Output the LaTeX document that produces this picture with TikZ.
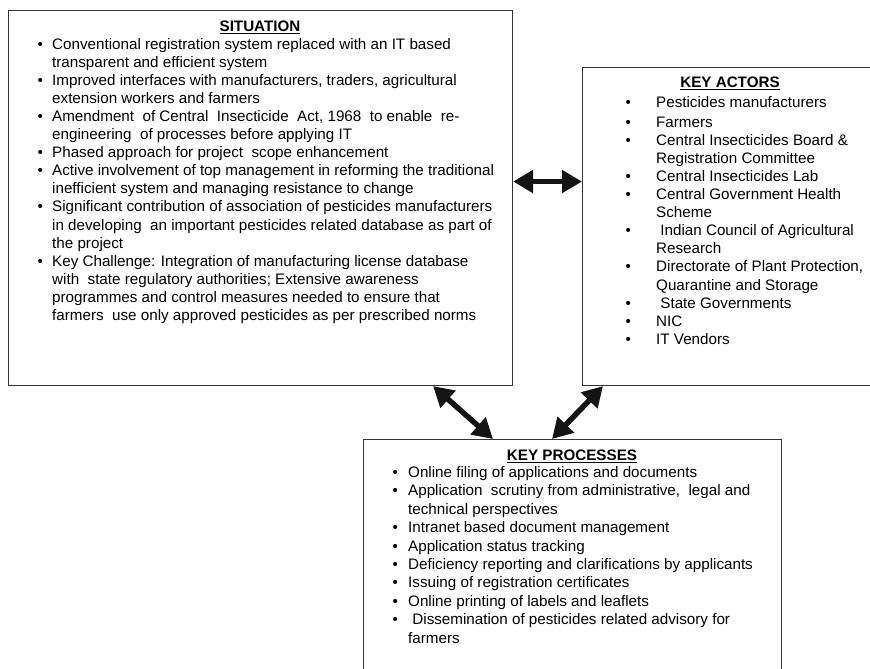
\documentclass[tikz,border=0pt]{standalone}
\usepackage{fontspec}
\setmainfont{Liberation Sans}
\usetikzlibrary{arrows.meta}

\newcommand{\boxtitle}[1]{\underline{\textbf{#1}}}
\newcommand{\itm}{\textbullet}

\tikzset{
  panel/.style={draw=black!80, line width=1.1pt, anchor=north west, inner sep=0pt},
  listtext/.style={anchor=base west, inner sep=0pt, align=left,
    font=\fontsize{15.2}{18.1}\selectfont},
  titletext/.style={anchor=base, inner sep=0pt,
    font=\fontsize{15.2}{18.1}\selectfont},
  fat/.style={line width=5.5pt, draw=black!92,
    {Triangle[length=20pt,width=22pt]}-{Triangle[length=20pt,width=22pt]}}
}

\begin{document}
\begin{tikzpicture}[x=1pt,y=-1pt]
\useasboundingbox (0,0) rectangle (870,669);
\clip (0,0) rectangle (870,669);

% the three panels
\node[panel, minimum width=504pt, minimum height=375pt] (sit) at (8,10) {};
\node[panel, minimum width=300pt, minimum height=318pt] (act) at (582,67) {};
\node[panel, minimum width=418pt, minimum height=260pt] (proc) at (363,439) {};

% situation
\node[titletext] (sittitle) at (260,31.5) {\boxtitle{SITUATION}};
\node[listtext] (sitlist) at (37.5,49) {%
\begin{tabular}[t]{@{}p{14.5pt}@{}l@{}}
\itm & Conventional registration system replaced with an IT based\\
     & transparent and efficient system\\
\itm & Improved interfaces with manufacturers, traders, agricultural\\
     & extension workers and farmers\\
\itm & Amendment\ \ of Central\ \ Insecticide\ \ Act, 1968\ \ to enable\ \ re-\\
     & engineering\ \ of processes before applying IT\\
\itm & Phased approach for project\ \ scope enhancement\\
\itm & Active involvement of top management in reforming the traditional\\
     & inefficient system and managing resistance to change\\
\itm & Significant contribution of association of pesticides manufacturers\\
     & in developing\ \ an important pesticides related database as part of\\
     & the project\\
\itm & Key Challenge: Integration of manufacturing license database\\
     & with\ \ state regulatory authorities; Extensive awareness\\
     & programmes and control measures needed to ensure that\\
     & farmers\ \ use only approved pesticides as per prescribed norms
\end{tabular}};

% key actors
\node[titletext] (acttitle) at (730,88) {\boxtitle{KEY ACTORS}};
\node[listtext] (actlist) at (625.5,107) {%
\begin{tabular}[t]{@{}p{30.5pt}@{}l@{}}
\itm & Pesticides manufacturers\\[2pt]
\itm & Farmers\\
\itm & Central Insecticides Board \&\\
     & Registration Committee\\
\itm & Central Insecticides Lab\\
\itm & Central Government Health\\
     & Scheme\\
\itm & \ Indian Council of Agricultural\\
     & Research\\
\itm & Directorate of Plant Protection,\\
     & Quarantine and Storage\\
\itm & \ State Governments\\
\itm & NIC\\
\itm & IT Vendors
\end{tabular}};

% key processes
\node[titletext] (proctitle) at (572,460.5) {\boxtitle{KEY PROCESSES}};
\node[listtext, font=\fontsize{15.2}{18.4}\selectfont] (proclist) at (392.5,477.5) {%
\begin{tabular}[t]{@{}p{15.5pt}@{}l@{}}
\itm & Online filing of applications and documents\\
\itm & Application\ \ scrutiny from administrative,\ \ legal and\\
     & technical perspectives\\
\itm & Intranet based document management\\
\itm & Application status tracking\\
\itm & Deficiency reporting and clarifications by applicants\\
\itm & Issuing of registration certificates\\
\itm & Online printing of labels and leaflets\\
\itm & \ Dissemination of pesticides related advisory for\\
     & farmers
\end{tabular}};

% two-way links between the panels
\draw[fat] ([yshift=16.5pt]sit.east) -- ([yshift=45pt]act.west);
\draw[fat] ([xshift=-80pt]sit.south east) -- ([xshift=130pt]proc.north west);
\draw[fat] ([xshift=21pt]act.south west) -- ([xshift=189pt]proc.north west);
\end{tikzpicture}
\end{document}
